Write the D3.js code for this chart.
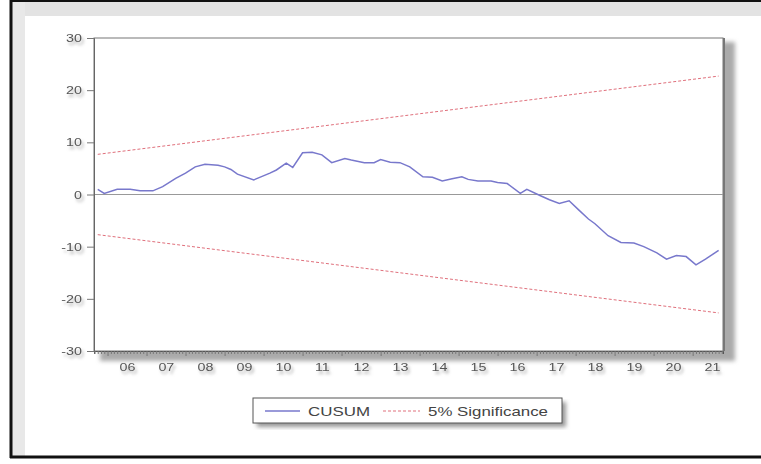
<!DOCTYPE html>
<html>
<head>
  <meta charset="utf-8">
  <script src="https://cdn.jsdelivr.net/npm/d3@7"></script>
  <style>
    body { margin: 0; background: #fff; }
    svg { display: block; font-family: "Liberation Sans", Arial, sans-serif; }
  </style>
</head>
<body>
  <script>
    // CUSUM trace (month, value)
    const months = [
      "2005-10", "2005-12", "2006-04", "2006-08", "2006-11", "2007-03", "2007-06", "2007-10",
      "2008-01", "2008-04", "2008-07", "2008-11", "2009-01", "2009-03", "2009-05", "2009-10",
      "2010-03", "2010-05", "2010-08", "2010-10", "2011-01", "2011-04", "2011-07", "2011-10",
      "2012-02", "2012-04", "2012-08", "2012-11", "2013-01", "2013-04", "2013-07", "2013-10",
      "2014-02", "2014-05", "2014-08", "2014-11", "2015-02", "2015-04", "2015-07", "2015-11",
      "2016-01", "2016-04", "2016-08", "2016-10", "2017-02", "2017-05", "2017-08", "2017-11",
      "2018-02", "2018-05", "2018-07", "2018-11", "2019-03", "2019-07", "2019-10", "2020-02",
      "2020-05", "2020-08", "2020-11", "2021-02", "2021-05", "2021-09"
    ]
    const cusum = [
      1.0, 0.2, 1.0, 1.0, 0.7, 0.7, 1.5, 3.1,
      4.1, 5.3, 5.8, 5.6, 5.3, 4.8, 3.9, 2.8,
      4.1, 4.7, 6.0, 5.2, 8.0, 8.1, 7.6, 6.1,
      6.9, 6.6, 6.1, 6.1, 6.7, 6.2, 6.1, 5.3,
      3.4, 3.3, 2.6, 3.0, 3.4, 2.9, 2.6, 2.6,
      2.3, 2.1, 0.2, 1.0, -0.2, -1.0, -1.7, -1.2,
      -3.0, -4.7, -5.6, -7.9, -9.2, -9.3, -10.0, -11.2,
      -12.4, -11.7, -11.9, -13.5, -12.4, -10.7
    ]
    // 5% significance bounds (upper; lower is the mirror)
    const sigMonths = ["2005-10", "2021-09"]
    const sigUpper = [7.7, 22.7]

    const yTicks = [-30, -20, -10, 0, 10, 20, 30]
    const yearLabels = ["06", "07", "08", "09", "10", "11", "12", "13", "14", "15", "16", "17", "18", "19", "20", "21"]

    const W = 761, H = 464
    const plot = { left: 94, right: 723, top: 38, bottom: 351 }
    const parse = d3.timeParse("%Y-%m")

    const svg = d3.select("body").append("svg").attr("width", W).attr("height", H)

    const defs = svg.append("defs")
    const sh = defs.append("filter").attr("id", "tshadow")
      .attr("x", "-30%").attr("y", "-40%").attr("width", "170%").attr("height", "190%")
    sh.append("feDropShadow").attr("dx", 2).attr("dy", 3).attr("stdDeviation", 1.6)
      .attr("flood-color", "#888").attr("flood-opacity", 0.7)
    const blur = defs.append("filter").attr("id", "blur")
    blur.append("feGaussianBlur").attr("stdDeviation", 2)

    // outer frame
    svg.append("rect").attr("x", 12).attr("y", 2).attr("width", W - 12).attr("height", 14).attr("fill", "#e3e3e3")
    svg.append("rect").attr("x", 12).attr("y", 2).attr("width", 13).attr("height", 455).attr("fill", "#e8e8e8")
    svg.append("line").attr("x1", 11).attr("x2", 11).attr("y1", 0).attr("y2", 458)
      .attr("stroke", "#111").attr("stroke-width", 3)
    svg.append("line").attr("x1", 10).attr("x2", W).attr("y1", 1).attr("y2", 1)
      .attr("stroke", "#111").attr("stroke-width", 2)
    svg.append("line").attr("x1", 10).attr("x2", W).attr("y1", 457).attr("y2", 457)
      .attr("stroke", "#111").attr("stroke-width", 3)

    const x = d3.scaleTime()
      .domain([new Date(2005, 7, 27), new Date(2021, 9, 12)])
      .range([plot.left, plot.right])
    const y = d3.scaleLinear().domain([-30, 30]).range([plot.bottom, plot.top])

    // plot box with shadow
    svg.append("rect").attr("x", plot.left + 6).attr("y", plot.top + 4)
      .attr("width", plot.right - plot.left + 6).attr("height", plot.bottom - plot.top + 6)
      .attr("fill", "#aaa").attr("filter", "url(#blur)")
    svg.append("rect").attr("x", plot.left).attr("y", plot.top)
      .attr("width", plot.right - plot.left).attr("height", plot.bottom - plot.top)
      .attr("fill", "#fff").attr("stroke", "#777").attr("stroke-width", 1)
    svg.append("line").attr("x1", plot.right + 1).attr("x2", plot.right + 1)
      .attr("y1", plot.top).attr("y2", plot.bottom).attr("stroke", "#777").attr("stroke-width", 2)

    // zero line
    svg.append("line").attr("x1", plot.left).attr("x2", plot.right)
      .attr("y1", y(0)).attr("y2", y(0)).attr("stroke", "#999").attr("stroke-width", 1)

    // y axis (plain hyphen minus, as in the picture)
    const yAxis = svg.append("g").attr("transform", `translate(${plot.left},0)`)
      .call(d3.axisLeft(y).tickValues(yTicks).tickSize(7).tickPadding(5).tickFormat(d => String(d)))
    yAxis.select(".domain").attr("stroke", "#666")
    yAxis.selectAll(".tick line").attr("stroke", "#777")
    yAxis.selectAll("text").attr("fill", "#555").attr("font-size", 11).attr("filter", "url(#tshadow)")

    // x axis: month ticks
    const xAxis = svg.append("g").attr("transform", `translate(0,${plot.bottom})`)
      .call(d3.axisBottom(x).ticks(d3.timeMonth.every(1)).tickSize(3).tickFormat(""))
    xAxis.select(".domain").attr("stroke", "#555")
    xAxis.selectAll(".tick line").attr("stroke", "#777")
    xAxis.selectAll(".tick").filter(d => d.getMonth() === 0).select("line").attr("y2", 5)

    // year labels at mid-year
    const labelDates = yearLabels.map(s => new Date(2000 + +s, 6, 1))
    const xLab = svg.append("g").attr("transform", `translate(0,${plot.bottom})`)
      .call(d3.axisBottom(x).tickValues(labelDates).tickSize(0).tickPadding(12)
        .tickFormat((d, i) => yearLabels[i]))
    xLab.select(".domain").remove()
    xLab.selectAll("text").attr("fill", "#555").attr("font-size", 11).attr("filter", "url(#tshadow)")

    // stretch tick text a little, as in the picture
    svg.selectAll(".tick text").each(function () {
      const len = this.getComputedTextLength()
      if (len > 0) d3.select(this).attr("textLength", len * 1.3).attr("lengthAdjust", "spacingAndGlyphs")
    })

    // significance bounds
    const sig = sigMonths.map((m, i) => ({ date: parse(m), v: sigUpper[i] }))
    const line = d3.line().x(d => x(d.date)).y(d => y(d.v))
    svg.append("path").datum(sig).attr("d", line)
      .attr("fill", "none").attr("stroke", "#e0707c").attr("stroke-width", 1).attr("stroke-dasharray", "3,2")
    svg.append("path").datum(sig.map(d => ({ date: d.date, v: -d.v }))).attr("d", line)
      .attr("fill", "none").attr("stroke", "#e0707c").attr("stroke-width", 1).attr("stroke-dasharray", "3,2")

    // CUSUM
    const series = months.map((m, i) => ({ date: parse(m), v: cusum[i] }))
    svg.append("path").datum(series).attr("d", line)
      .attr("fill", "none").attr("stroke", "#7878cc").attr("stroke-width", 1.5)

    // legend
    const lg = { x: 253, y: 398, w: 309, h: 25 }
    svg.append("rect").attr("x", lg.x + 4).attr("y", lg.y + 4).attr("width", lg.w).attr("height", lg.h)
      .attr("fill", "#999").attr("filter", "url(#blur)")
    svg.append("rect").attr("x", lg.x).attr("y", lg.y).attr("width", lg.w).attr("height", lg.h)
      .attr("fill", "#fff").attr("stroke", "#555").attr("stroke-width", 1)
    const ly = lg.y + 13
    svg.append("line").attr("x1", 265).attr("x2", 300).attr("y1", ly).attr("y2", ly)
      .attr("stroke", "#7878cc").attr("stroke-width", 1.5)
    svg.append("line").attr("x1", 383).attr("x2", 420).attr("y1", ly).attr("y2", ly)
      .attr("stroke", "#e0707c").attr("stroke-width", 1).attr("stroke-dasharray", "3,2")
    svg.append("text").attr("x", 308).attr("y", ly + 4.5).text("CUSUM")
      .attr("font-size", 13).attr("fill", "#444").attr("textLength", 62).attr("lengthAdjust", "spacingAndGlyphs")
    svg.append("text").attr("x", 428).attr("y", ly + 4.5).text("5% Significance")
      .attr("font-size", 13).attr("fill", "#444").attr("textLength", 120).attr("lengthAdjust", "spacingAndGlyphs")
  </script>
</body>
</html>
